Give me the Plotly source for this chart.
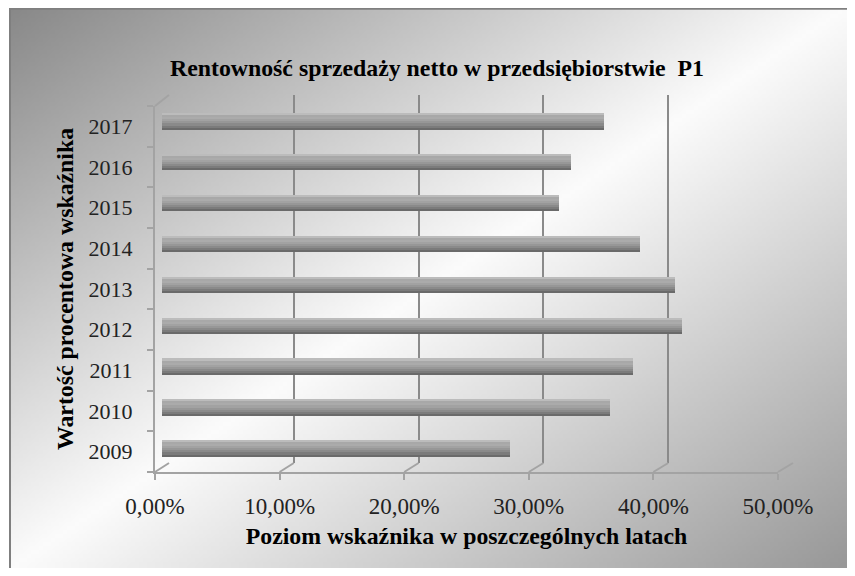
import zlib
import struct
import base64
import numpy as np
import plotly.graph_objects as go

# ---------------- data ----------------
years = ["2009", "2010", "2011", "2012", "2013", "2014", "2015", "2016", "2017"]
values = [0.279, 0.359, 0.377, 0.417, 0.411, 0.383, 0.318, 0.328, 0.354]
x_tick_vals = [0.0, 0.1, 0.2, 0.3, 0.4, 0.5]
x_tick_text = ["0,00%", "10,00%", "20,00%", "30,00%", "40,00%", "50,00%"]

title_text = "Rentowność sprzedaży netto w przedsiębiorstwie  P1"
x_title = "Poziom wskaźnika w poszczególnych latach"
y_title = "Wartość procentowa wskaźnika"

# ---------------- geometry / style ----------------
OFF = 8  # page body margin: screen pixel = figure pixel + OFF
W, H = 855 - 2 * OFF, 576 - 2 * OFF  # figure fits the window without scrollbars
FONT = "Liberation Serif"


def fx(px):
    return (px - OFF) / W


def fy(py):
    return 1 - (py - OFF) / H


FRONT_X0, FRONT_X50, FRONT_YB, FRONT_YT = 155, 778, 472, 106
BACK_X0, BACK_X50, BACK_YB, BACK_YT = 169, 793, 463, 95
BAR_X0, BAR_X50, BAR_YB, BAR_YT = 162, 786, 468.4, 100.6
XMAX = 0.5


def front_px(v):
    return FRONT_X0 + v / XMAX * (FRONT_X50 - FRONT_X0)


def back_px(v):
    return BACK_X0 + v / XMAX * (BACK_X50 - BACK_X0)


# background gradient image (styling only)
def gray_png(arr):
    h, w = arr.shape
    raw = b"".join(b"\x00" + row.tobytes() for row in arr.astype(np.uint8))

    def chunk(t, d):
        return struct.pack(">I", len(d)) + t + d + struct.pack(">I", zlib.crc32(t + d) & 0xFFFFFFFF)

    ihdr = struct.pack(">IIBBBBB", w, h, 8, 0, 0, 0, 0)
    png = b"\x89PNG\r\n\x1a\n" + chunk(b"IHDR", ihdr) + chunk(b"IDAT", zlib.compress(raw, 9)) + chunk(b"IEND", b"")
    return "data:image/png;base64," + base64.b64encode(png).decode()


# image covers screen x 9..847, y 8..568
gw, gh = 210, 140
sx, sy = np.meshgrid(np.linspace(9, 847, gw), np.linspace(8, 568, gh))
tt = (sx / 855 + sy / 576) / 2
grad = np.interp(tt, [0.0, 0.5, 1.0], [134, 252, 150])
bg_src = gray_png(np.clip(grad, 0, 255))

stripe_colors = ["#bcbcbc", "#a8a8a8", "#ababab", "#a2a2a2", "#979797", "#8a8a8a", "#7b7b7b", "#6a6a6a"]
bar_thick = 0.40
sw = bar_thick / len(stripe_colors)

GRID_C = "#8a8a8a"
AXIS_C = "#a3a3a3"

fig = go.Figure()

# subplot xy: back wall gridlines (dummy trace)
fig.add_trace(go.Scatter(x=[0], y=[0], xaxis="x", yaxis="y", mode="markers",
                         marker=dict(opacity=0), hoverinfo="skip", showlegend=False))
# subplot x2y2: front axes (dummy trace)
fig.add_trace(go.Scatter(x=[0] * len(years), y=years, xaxis="x2", yaxis="y2", mode="markers",
                         marker=dict(opacity=0), hoverinfo="skip", showlegend=False))
# subplot x3y3: cylinder-like bars from stacked stripes
for k, col in enumerate(stripe_colors):
    fig.add_trace(go.Bar(
        x=values, y=years, orientation="h", xaxis="x3", yaxis="y3",
        width=sw, offset=bar_thick / 2 - (k + 1) * sw,
        marker=dict(color=col, line=dict(width=0)),
        hoverinfo="x+y" if k == 0 else "skip", showlegend=False,
    ))

shapes = []
for v in x_tick_vals:
    shapes.append(dict(type="line", xref="paper", yref="paper",
                       x0=fx(front_px(v)), y0=fy(FRONT_YB), x1=fx(back_px(v)), y1=fy(BACK_YB),
                       line=dict(color=AXIS_C, width=2)))
shapes.append(dict(type="line", xref="paper", yref="paper",
                   x0=fx(FRONT_X0), y0=fy(FRONT_YT), x1=fx(BACK_X0), y1=fy(BACK_YT),
                   line=dict(color=AXIS_C, width=2)))
# chart frame (top and left edges)
shapes.append(dict(type="line", xref="paper", yref="paper", x0=fx(9), y0=fy(8.8), x1=1.0, y1=fy(8.8),
                   line=dict(color="#7f7f7f", width=2)))
shapes.append(dict(type="line", xref="paper", yref="paper", x0=fx(10), y0=fy(8), x1=fx(10), y1=0.0,
                   line=dict(color="#7f7f7f", width=2)))

BOLD = dict(family=FONT, size=23.8, color="black", weight="bold")

fig.update_layout(
    width=W, height=H,
    margin=dict(l=0, r=0, t=0, b=0, autoexpand=False),
    paper_bgcolor="white",
    plot_bgcolor="rgba(0,0,0,0)",
    barmode="overlay",
    bargap=0,
    showlegend=False,
    font=dict(family=FONT, color="#222222"),
    title=dict(text=title_text, x=fx(437), y=fy(68), xanchor="center", yanchor="middle",
               xref="paper", yref="paper", font=BOLD),
    images=[dict(source=bg_src, xref="paper", yref="paper", x=fx(9), y=1.0,
                 sizex=1.0, sizey=1.0, xanchor="left", yanchor="top",
                 sizing="stretch", layer="below")],
    shapes=shapes,
    xaxis=dict(domain=[fx(BACK_X0), fx(BACK_X50)], range=[0, XMAX], anchor="y",
               tickvals=x_tick_vals, showticklabels=False, ticks="",
               showgrid=True, gridcolor=GRID_C, gridwidth=2, zeroline=False, showline=False),
    yaxis=dict(domain=[fy(BACK_YB), fy(BACK_YT)], range=[0, 1], anchor="x", visible=False),
    xaxis2=dict(domain=[fx(FRONT_X0), fx(FRONT_X50)], range=[0, XMAX], anchor="y2",
                tickvals=x_tick_vals, ticktext=x_tick_text,
                showline=True, linecolor=AXIS_C, linewidth=2,
                ticks="outside", ticklen=6, tickwidth=2, tickcolor=AXIS_C,
                showgrid=False, zeroline=False, ticklabelstandoff=6,
                tickfont=dict(family=FONT, size=23, color="#222222"),
                title=dict(text=x_title, standoff=10, font=BOLD)),
    yaxis2=dict(domain=[fy(FRONT_YB), fy(FRONT_YT)], anchor="x2", type="category",
                categoryorder="array", categoryarray=years, range=[-0.5, len(years) - 0.5],
                tickson="boundaries", ticks="outside", ticklen=6, tickwidth=2, tickcolor=AXIS_C,
                showline=True, linecolor=AXIS_C, linewidth=2, showgrid=False, zeroline=False,
                ticklabelstandoff=16,
                tickfont=dict(family=FONT, size=22, color="#222222"),
                title=dict(text=y_title, standoff=8, font=BOLD)),
    xaxis3=dict(domain=[fx(BAR_X0), fx(BAR_X50)], range=[0, XMAX], anchor="y3", visible=False),
    yaxis3=dict(domain=[fy(BAR_YB), fy(BAR_YT)], anchor="x3", type="category",
                categoryorder="array", categoryarray=years, range=[-0.5, len(years) - 0.5],
                visible=False),
)

fig.write_html("out.html")
